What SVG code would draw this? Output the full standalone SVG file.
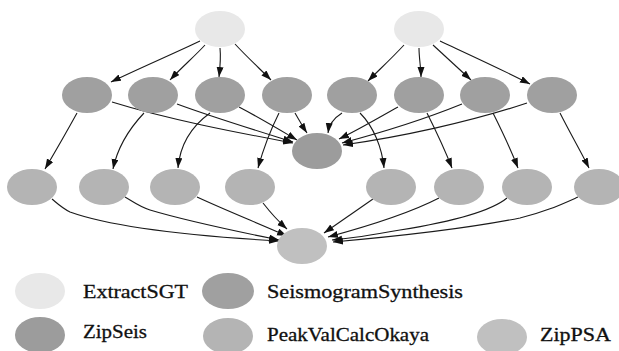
<svg xmlns="http://www.w3.org/2000/svg" width="619" height="351" viewBox="0 0 619 351">
  <style>
    .extract { fill: #e8e8e8; }
    .synth { fill: #a0a0a0; }
    .zipseis { fill: #9c9c9c; }
    .peak { fill: #b4b4b4; }
    .zippsa { fill: #c0c0c0; }
    .edge { fill: none; stroke: #1a1a1a; stroke-width: 1.1; marker-end: url(#arrow); }
    .label { font-family: "Liberation Serif", "Times New Roman", serif; font-size: 19px; fill: #111; stroke: #111; stroke-width: 0.3; }
  </style>
  <defs>
    <marker id="arrow" markerUnits="userSpaceOnUse" markerWidth="11" markerHeight="8" refX="10" refY="3.5" orient="auto">
      <path d="M0,0 L10,3.5 L0,7 z" fill="#111"/>
    </marker>
  </defs>

  <rect width="619" height="351" fill="#ffffff"/>

  <!-- connectors -->
  <g id="edges">
    <!-- ExtractSGT (left) to SeismogramSynthesis -->
    <path class="edge" d="M200,41 C175,53 140,68 111,82"/>
    <path class="edge" d="M205,45 C195,56 182,67 170,80"/>
    <path class="edge" d="M220,48 C221,58 220,68 219,77"/>
    <path class="edge" d="M235,44 C246,56 259,68 271,80"/>
    <!-- ExtractSGT (right) to SeismogramSynthesis -->
    <path class="edge" d="M404,45 C393,57 380,69 368,81"/>
    <path class="edge" d="M419,48 C419,58 421,68 421,77"/>
    <path class="edge" d="M433,45 C446,57 459,69 471,80"/>
    <path class="edge" d="M440,41 C470,55 503,70 530,84"/>
    <!-- SeismogramSynthesis to ZipSeis -->
    <path class="edge" d="M112,102 C170,120 240,133 293,143"/>
    <path class="edge" d="M177,104 C215,118 258,131 293,142"/>
    <path class="edge" d="M239,107 C260,118 280,130 297,140"/>
    <path class="edge" d="M295,113 C299,120 303,127 307,133"/>
    <path class="edge" d="M342,113 C334,118 329,125 328,133"/>
    <path class="edge" d="M398,107 C378,118 358,130 339,139"/>
    <path class="edge" d="M462,104 C425,119 380,133 342,143"/>
    <path class="edge" d="M527,103 C470,122 400,137 343,145"/>
    <!-- SeismogramSynthesis to PeakValCalcOkaya -->
    <path class="edge" d="M77,113 C66,133 55,152 45,169"/>
    <path class="edge" d="M144,113 C128,130 117,150 113,169"/>
    <path class="edge" d="M210,113 C192,126 180,145 178,168"/>
    <path class="edge" d="M279,113 C270,131 263,150 258,168"/>
    <path class="edge" d="M360,113 C374,127 382,148 384,168"/>
    <path class="edge" d="M427,113 C436,131 445,150 452,168"/>
    <path class="edge" d="M493,113 C502,131 511,150 518,168"/>
    <path class="edge" d="M560,113 C569,131 580,150 589,168"/>
    <!-- PeakValCalcOkaya to ZipPSA -->
    <path class="edge" d="M52,199 C58,204 62,208 70,212 C120,230 210,237 279,241"/>
    <path class="edge" d="M125,197 C135,203 140,207 150,210 C190,222 240,232 279,240"/>
    <path class="edge" d="M197,197 C225,210 260,224 287,236"/>
    <path class="edge" d="M263,203 C270,212 278,221 287,229"/>
    <path class="edge" d="M373,199 C357,210 340,222 324,233"/>
    <path class="edge" d="M439,198 C410,213 365,227 328,237"/>
    <path class="edge" d="M507,198 C490,212 450,222 400,230 C378,234 355,238 332,240"/>
    <path class="edge" d="M578,197 C560,205 545,212 520,218 C470,228 390,237 333,242"/>
  </g>

  <!-- ExtractSGT -->
  <g id="extract-1"><ellipse class="extract" cx="220" cy="29" rx="25" ry="18"/></g>
  <g id="extract-2"><ellipse class="extract" cx="419" cy="29" rx="25" ry="18"/></g>

  <!-- SeismogramSynthesis -->
  <g id="synth-1"><ellipse class="synth" cx="87" cy="95" rx="25" ry="18"/></g>
  <g id="synth-2"><ellipse class="synth" cx="153" cy="95" rx="25" ry="18"/></g>
  <g id="synth-3"><ellipse class="synth" cx="220" cy="95" rx="25" ry="18"/></g>
  <g id="synth-4"><ellipse class="synth" cx="287" cy="95" rx="25" ry="18"/></g>
  <g id="synth-5"><ellipse class="synth" cx="352" cy="95" rx="25" ry="18"/></g>
  <g id="synth-6"><ellipse class="synth" cx="419" cy="95" rx="25" ry="18"/></g>
  <g id="synth-7"><ellipse class="synth" cx="485" cy="95" rx="25" ry="18"/></g>
  <g id="synth-8"><ellipse class="synth" cx="552" cy="95" rx="25" ry="18"/></g>

  <!-- ZipSeis -->
  <g id="zipseis"><ellipse class="zipseis" cx="317" cy="151" rx="25" ry="18"/></g>

  <!-- PeakValCalcOkaya -->
  <g id="peak-1"><ellipse class="peak" cx="32" cy="187" rx="25" ry="18"/></g>
  <g id="peak-2"><ellipse class="peak" cx="104" cy="187" rx="25" ry="18"/></g>
  <g id="peak-3"><ellipse class="peak" cx="175" cy="187" rx="25" ry="18"/></g>
  <g id="peak-4"><ellipse class="peak" cx="250" cy="187" rx="25" ry="18"/></g>
  <g id="peak-5"><ellipse class="peak" cx="391" cy="187" rx="25" ry="18"/></g>
  <g id="peak-6"><ellipse class="peak" cx="459" cy="187" rx="25" ry="18"/></g>
  <g id="peak-7"><ellipse class="peak" cx="527" cy="187" rx="25" ry="18"/></g>
  <g id="peak-8"><ellipse class="peak" cx="599" cy="187" rx="25" ry="18"/></g>

  <!-- ZipPSA -->
  <g id="zippsa"><ellipse class="zippsa" cx="302" cy="246" rx="25" ry="18"/></g>

  <!-- legend -->
  <g id="legend">
    <ellipse class="extract" cx="40" cy="291" rx="25" ry="18"/>
    <text class="label" x="83" y="298" textLength="105" lengthAdjust="spacingAndGlyphs">ExtractSGT</text>
    <ellipse class="synth" cx="228" cy="291" rx="26" ry="18"/>
    <text class="label" x="267" y="298" textLength="196" lengthAdjust="spacingAndGlyphs">SeismogramSynthesis</text>
    <ellipse class="zipseis" cx="40" cy="335" rx="25" ry="18"/>
    <text class="label" x="83" y="338" textLength="64" lengthAdjust="spacingAndGlyphs">ZipSeis</text>
    <ellipse class="peak" cx="228" cy="336" rx="25" ry="18"/>
    <text class="label" x="267" y="341" textLength="162" lengthAdjust="spacingAndGlyphs">PeakValCalcOkaya</text>
    <ellipse class="zippsa" cx="502" cy="337" rx="25" ry="18"/>
    <text class="label" x="540" y="341" textLength="71" lengthAdjust="spacingAndGlyphs">ZipPSA</text>
  </g>
</svg>
